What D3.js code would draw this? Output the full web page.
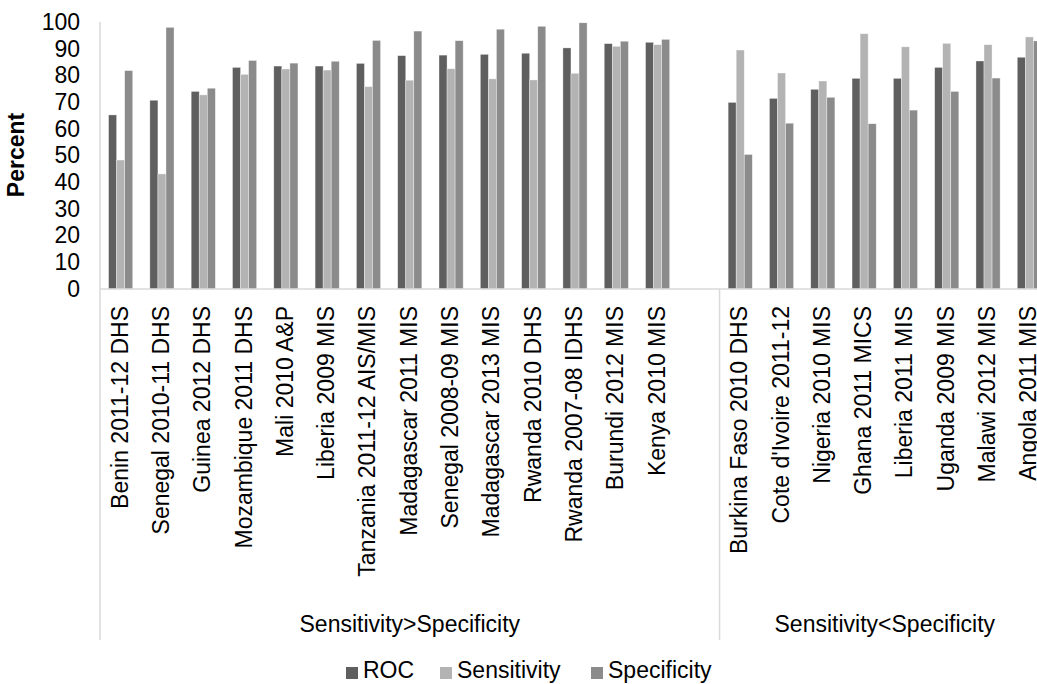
<!DOCTYPE html>
<html>
<head>
<meta charset="utf-8">
<script src="https://cdn.jsdelivr.net/npm/d3@7"></script>
<style>
  html, body { margin: 0; padding: 0; background: #fff; }
  svg { display: block; font-family: "Liberation Sans", Arial, sans-serif; }
</style>
</head>
<body>
<svg id="chart" width="1037" height="684"></svg>
<script>
// ---- data ----
const groupNames = ["Sensitivity>Specificity", "Sensitivity<Specificity"];
const group1 = ["Benin 2011-12 DHS", "Senegal 2010-11 DHS", "Guinea 2012 DHS", "Mozambique 2011 DHS",
  "Mali 2010 A&P", "Liberia 2009 MIS", "Tanzania 2011-12 AIS/MIS", "Madagascar 2011 MIS",
  "Senegal 2008-09 MIS", "Madagascar 2013 MIS", "Rwanda 2010 DHS", "Rwanda 2007-08 IDHS",
  "Burundi 2012 MIS", "Kenya 2010 MIS"];
const group2 = ["Burkina Faso 2010 DHS", "Cote d'Ivoire 2011-12", "Nigeria 2010 MIS", "Ghana 2011 MICS",
  "Liberia 2011 MIS", "Uganda 2009 MIS", "Malawi 2012 MIS", "Angola 2011 MIS"];
const seriesNames = ["ROC", "Sensitivity", "Specificity"];
const roc1  = [65.2, 70.7, 74.0, 83.0, 83.5, 83.5, 84.5, 87.4, 87.6, 87.9, 88.3, 90.3, 91.9, 92.4];
const sens1 = [48.3, 43.1, 72.7, 80.4, 82.4, 82.0, 75.8, 78.2, 82.5, 78.7, 78.3, 80.8, 90.9, 91.5];
const spec1 = [81.8, 98.0, 75.2, 85.6, 84.6, 85.3, 93.1, 96.6, 93.0, 97.3, 98.4, 99.7, 92.8, 93.5];
const roc2  = [69.9, 71.4, 74.8, 78.9, 78.9, 83.0, 85.4, 86.8];
const sens2 = [89.5, 80.9, 77.9, 95.6, 90.7, 92.0, 91.5, 94.4];
const spec2 = [50.4, 62.1, 71.8, 61.9, 67.0, 74.0, 79.0, 92.9];
const yTicks = [0, 10, 20, 30, 40, 50, 60, 70, 80, 90, 100];
const colors = ["#5f5f5f", "#b3b3b3", "#8b8b8b"];

// ---- build rows ----
const rows = [];
group1.forEach((c, i) => rows.push({key: "g1-" + i, label: c, group: 0, vals: [roc1[i], sens1[i], spec1[i]]}));
rows.push({key: "g1-blank", label: "", group: 0, vals: []});
group2.forEach((c, i) => rows.push({key: "g2-" + i, label: c, group: 1, vals: [roc2[i], sens2[i], spec2[i]]}));

// ---- layout ----
const svg = d3.select("#chart");
const plotLeft = 100, plotRight = 1050, plotTop = 22, base = 289, bottomLine = 640;
const fs = 23;

const x0 = d3.scaleBand().domain(rows.map(r => r.key)).range([plotLeft, plotRight]).padding(0);
const bw = x0.bandwidth();
const barW = bw * 0.195;
const x1 = d3.scaleBand().domain(seriesNames)
  .range([(bw - 3 * barW) / 2, (bw + 3 * barW) / 2]).padding(0);
const y = d3.scaleLinear().domain([0, 100]).range([base, plotTop]);

// bars
const g = svg.append("g");
rows.forEach(r => {
  g.selectAll(null)
    .data(r.vals.map((v, i) => ({s: seriesNames[i], v: v, i: i})))
    .enter().append("rect")
    .attr("x", d => x0(r.key) + x1(d.s))
    .attr("width", x1.bandwidth())
    .attr("y", d => y(d.v))
    .attr("height", d => y(0) - y(d.v))
    .attr("fill", d => colors[d.i])
    .attr("stroke", "#ffffff")
    .attr("stroke-opacity", 0.6)
    .attr("stroke-width", 0.6);
});

// y axis
const yAxis = d3.axisLeft(y).tickValues(yTicks).tickSize(0).tickPadding(20);
const ya = svg.append("g").attr("transform", `translate(${plotLeft},0)`).call(yAxis);
ya.select(".domain").remove();
ya.selectAll("text").attr("font-size", fs).attr("fill", "#000")
  .attr("font-family", "'Liberation Sans', Arial, sans-serif");

// axis lines
const lineColor = "#d9d9d9";
svg.append("line").attr("x1", plotLeft).attr("x2", plotLeft).attr("y1", plotTop).attr("y2", bottomLine)
  .attr("stroke", lineColor).attr("stroke-width", 1.5);
svg.append("line").attr("x1", plotLeft).attr("x2", plotRight).attr("y1", base).attr("y2", base)
  .attr("stroke", lineColor).attr("stroke-width", 1.5);
const sepX = x0("g2-0");
svg.append("line").attr("x1", sepX).attr("x2", sepX).attr("y1", base).attr("y2", bottomLine)
  .attr("stroke", lineColor).attr("stroke-width", 1.5);
svg.append("line").attr("x1", plotRight).attr("x2", plotRight).attr("y1", base).attr("y2", bottomLine)
  .attr("stroke", lineColor).attr("stroke-width", 1.5);

// category labels
svg.append("g").selectAll("text")
  .data(rows.filter(r => r.label))
  .enter().append("text")
  .attr("transform", r => `translate(${x0(r.key) + bw / 2 + 7},306) rotate(-90)`)
  .attr("text-anchor", "end")
  .attr("font-size", fs)
  .attr("fill", "#000")
  .text(r => r.label);

// group labels
const groupCenters = [(plotLeft + sepX) / 2, (sepX + plotRight) / 2];
svg.append("g").selectAll("text")
  .data(groupNames)
  .enter().append("text")
  .attr("x", (d, i) => groupCenters[i])
  .attr("y", 632)
  .attr("text-anchor", "middle")
  .attr("font-size", fs)
  .attr("fill", "#000")
  .text(d => d);

// y title
svg.append("text")
  .attr("transform", "translate(24,155) rotate(-90)")
  .attr("text-anchor", "middle")
  .attr("font-size", fs)
  .attr("font-weight", "bold")
  .attr("fill", "#000")
  .text("Percent");

// legend
const legendX = [346, 440, 591];
const lg = svg.append("g");
seriesNames.forEach((s, i) => {
  lg.append("rect").attr("x", legendX[i]).attr("y", 667).attr("width", 12).attr("height", 12)
    .attr("fill", colors[i]);
  lg.append("text").attr("x", legendX[i] + 17).attr("y", 678)
    .attr("font-size", fs).attr("fill", "#000").text(s);
});
</script>
</body>
</html>
